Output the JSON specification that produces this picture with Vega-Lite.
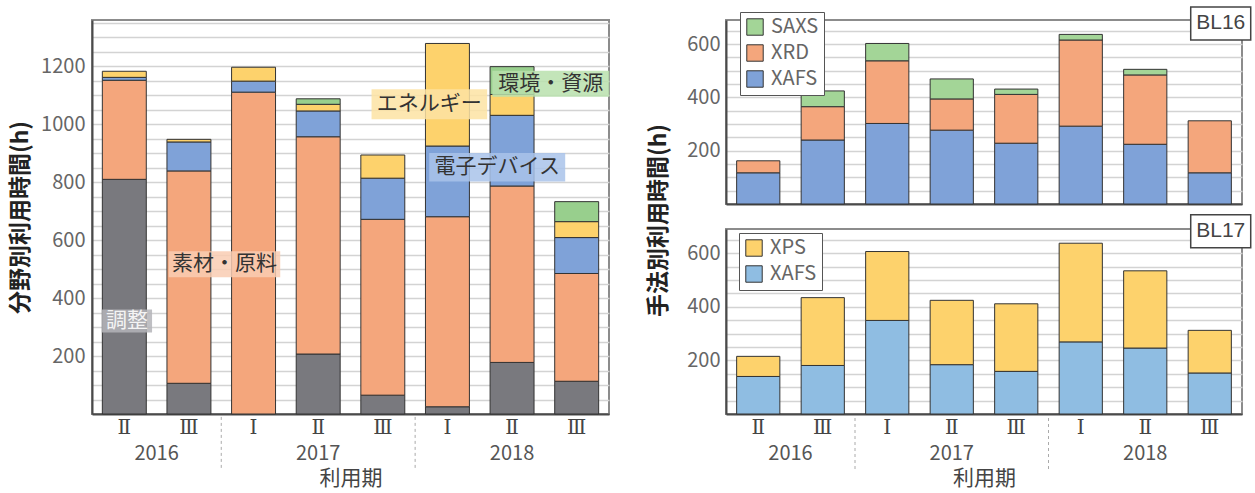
{
  "$schema": "https://vega.github.io/schema/vega-lite/v6.json",
  "background": "white",
  "padding": {"left": 8, "top": 2, "right": 2, "bottom": 2},
  "config": {
    "font": "Noto Sans CJK JP",
    "view": {"stroke": "#8c8c8c", "strokeWidth": 2},
    "axis": {
      "labelColor": "#666666",
      "labelFontSize": 20,
      "labelOverlap": false,
      "titleColor": "#222222",
      "ticks": false,
      "domainColor": "#4a4a4a",
      "domainWidth": 2,
      "gridColor": "#d3d3d3",
      "gridWidth": 1.5
    },
    "axisX": {"grid": false, "labelAngle": 0, "labelColor": "#444444", "labelFontSize": 20, "labelFont": "DejaVu Serif"},
    "legend": {"labelFontSize": 20, "labelColor": "#666666"}
  },
  "datasets": {
    "fieldHours": [
      {"period": "2016-Ⅱ", "cat": "調整", "h": 810},
      {"period": "2016-Ⅱ", "cat": "素材・原料", "h": 342},
      {"period": "2016-Ⅱ", "cat": "電子デバイス", "h": 10},
      {"period": "2016-Ⅱ", "cat": "エネルギー", "h": 21},
      {"period": "2016-Ⅲ", "cat": "調整", "h": 106},
      {"period": "2016-Ⅲ", "cat": "素材・原料", "h": 733},
      {"period": "2016-Ⅲ", "cat": "電子デバイス", "h": 100},
      {"period": "2016-Ⅲ", "cat": "エネルギー", "h": 9},
      {"period": "2017-Ⅰ", "cat": "素材・原料", "h": 1111},
      {"period": "2017-Ⅰ", "cat": "電子デバイス", "h": 38},
      {"period": "2017-Ⅰ", "cat": "エネルギー", "h": 48},
      {"period": "2017-Ⅱ", "cat": "調整", "h": 207},
      {"period": "2017-Ⅱ", "cat": "素材・原料", "h": 750},
      {"period": "2017-Ⅱ", "cat": "電子デバイス", "h": 89},
      {"period": "2017-Ⅱ", "cat": "エネルギー", "h": 23},
      {"period": "2017-Ⅱ", "cat": "環境・資源", "h": 19},
      {"period": "2017-Ⅲ", "cat": "調整", "h": 65},
      {"period": "2017-Ⅲ", "cat": "素材・原料", "h": 607},
      {"period": "2017-Ⅲ", "cat": "電子デバイス", "h": 142},
      {"period": "2017-Ⅲ", "cat": "エネルギー", "h": 80},
      {"period": "2018-Ⅰ", "cat": "調整", "h": 25},
      {"period": "2018-Ⅰ", "cat": "素材・原料", "h": 656},
      {"period": "2018-Ⅰ", "cat": "電子デバイス", "h": 244},
      {"period": "2018-Ⅰ", "cat": "エネルギー", "h": 354},
      {"period": "2018-Ⅱ", "cat": "調整", "h": 178},
      {"period": "2018-Ⅱ", "cat": "素材・原料", "h": 609},
      {"period": "2018-Ⅱ", "cat": "電子デバイス", "h": 244},
      {"period": "2018-Ⅱ", "cat": "エネルギー", "h": 72},
      {"period": "2018-Ⅱ", "cat": "環境・資源", "h": 96},
      {"period": "2018-Ⅲ", "cat": "調整", "h": 113},
      {"period": "2018-Ⅲ", "cat": "素材・原料", "h": 372},
      {"period": "2018-Ⅲ", "cat": "電子デバイス", "h": 124},
      {"period": "2018-Ⅲ", "cat": "エネルギー", "h": 55},
      {"period": "2018-Ⅲ", "cat": "環境・資源", "h": 69}
    ],
    "bl16": [
      {"period": "2016-Ⅱ", "method": "XAFS", "h": 117},
      {"period": "2016-Ⅱ", "method": "XRD", "h": 45},
      {"period": "2016-Ⅲ", "method": "XAFS", "h": 240},
      {"period": "2016-Ⅲ", "method": "XRD", "h": 125},
      {"period": "2016-Ⅲ", "method": "SAXS", "h": 59},
      {"period": "2017-Ⅰ", "method": "XAFS", "h": 302},
      {"period": "2017-Ⅰ", "method": "XRD", "h": 235},
      {"period": "2017-Ⅰ", "method": "SAXS", "h": 65},
      {"period": "2017-Ⅱ", "method": "XAFS", "h": 277},
      {"period": "2017-Ⅱ", "method": "XRD", "h": 117},
      {"period": "2017-Ⅱ", "method": "SAXS", "h": 75},
      {"period": "2017-Ⅲ", "method": "XAFS", "h": 228},
      {"period": "2017-Ⅲ", "method": "XRD", "h": 183},
      {"period": "2017-Ⅲ", "method": "SAXS", "h": 20},
      {"period": "2018-Ⅰ", "method": "XAFS", "h": 292},
      {"period": "2018-Ⅰ", "method": "XRD", "h": 323},
      {"period": "2018-Ⅰ", "method": "SAXS", "h": 21},
      {"period": "2018-Ⅱ", "method": "XAFS", "h": 224},
      {"period": "2018-Ⅱ", "method": "XRD", "h": 260},
      {"period": "2018-Ⅱ", "method": "SAXS", "h": 21},
      {"period": "2018-Ⅲ", "method": "XAFS", "h": 117},
      {"period": "2018-Ⅲ", "method": "XRD", "h": 195}
    ],
    "bl17": [
      {"period": "2016-Ⅱ", "method": "XAFS", "h": 140},
      {"period": "2016-Ⅱ", "method": "XPS", "h": 75},
      {"period": "2016-Ⅲ", "method": "XAFS", "h": 181},
      {"period": "2016-Ⅲ", "method": "XPS", "h": 253},
      {"period": "2017-Ⅰ", "method": "XAFS", "h": 349},
      {"period": "2017-Ⅰ", "method": "XPS", "h": 257},
      {"period": "2017-Ⅱ", "method": "XAFS", "h": 184},
      {"period": "2017-Ⅱ", "method": "XPS", "h": 240},
      {"period": "2017-Ⅲ", "method": "XAFS", "h": 159},
      {"period": "2017-Ⅲ", "method": "XPS", "h": 252},
      {"period": "2018-Ⅰ", "method": "XAFS", "h": 269},
      {"period": "2018-Ⅰ", "method": "XPS", "h": 368},
      {"period": "2018-Ⅱ", "method": "XAFS", "h": 246},
      {"period": "2018-Ⅱ", "method": "XPS", "h": 288},
      {"period": "2018-Ⅲ", "method": "XAFS", "h": 153},
      {"period": "2018-Ⅲ", "method": "XPS", "h": 159}
    ],
    "fieldNotes": [
      {"cat": "調整", "at": 0.54, "h": 321},
      {"cat": "素材・原料", "at": 2.05, "h": 517},
      {"cat": "エネルギー", "at": 5.22, "h": 1069},
      {"cat": "電子デバイス", "at": 6.27, "h": 852},
      {"cat": "環境・資源", "at": 7.1, "h": 1140}
    ],
    "years": [
      {"year": "2016", "at": 1},
      {"year": "2017", "at": 3.5},
      {"year": "2018", "at": 6.5}
    ],
    "yearBreaks": [
      {"at": 2},
      {"at": 5}
    ],
    "beamlines": [
      {"bl": "BL16", "at": 7.67, "h": 677},
      {"bl": "BL17", "at": 7.67, "h": 682}
    ]
  },
  "hconcat": [
    {
      "width": 517,
      "height": 394,
      "layer": [
        {
          "data": {"name": "fieldHours"},
          "transform": [
            {"calculate": "indexof(['調整','素材・原料','電子デバイス','エネルギー','環境・資源'], datum.cat)", "as": "stackRank"}
          ],
          "mark": {"type": "bar", "stroke": "#333333", "strokeWidth": 1},
          "encoding": {
            "x": {
              "field": "period", "type": "nominal",
              "sort": ["2016-Ⅱ", "2016-Ⅲ", "2017-Ⅰ", "2017-Ⅱ", "2017-Ⅲ", "2018-Ⅰ", "2018-Ⅱ", "2018-Ⅲ"],
              "scale": {"paddingInner": 0.32, "paddingOuter": 0.16},
              "axis": {
                "title": "利用期", "labelExpr": "split(datum.label, '-')[1]",
                "labelPadding": 3, "titlePadding": 30, "titleFontSize": 21,
                "titleFontWeight": "normal", "titleColor": "#444444"
              }
            },
            "y": {
              "field": "h", "type": "quantitative", "stack": "zero",
              "scale": {"domain": [0, 1360], "nice": false},
              "axis": {
                "orient": "left", "title": null, "labels": false, "grid": true,
                "values": [50, 100, 150, 200, 250, 300, 350, 400, 450, 500, 550, 600, 650, 700, 750, 800, 850, 900, 950, 1000, 1050, 1100, 1150, 1200, 1250, 1300, 1350]
              }
            },
            "color": {
              "field": "cat", "type": "nominal",
              "scale": {
                "domain": ["調整", "素材・原料", "電子デバイス", "エネルギー", "環境・資源"],
                "range": ["#79797e", "#f4a67c", "#7fa2d8", "#fdd26c", "#98cf8d"]
              },
              "legend": null
            },
            "order": {"field": "stackRank", "type": "quantitative", "sort": "ascending"}
          }
        },
        {
          "data": {"name": "fieldNotes"},
          "mark": {"type": "point", "filled": true, "opacity": 0.85, "size": 18496, "strokeWidth": 0},
          "encoding": {
            "x": {"field": "at", "type": "quantitative", "scale": {"domain": [0, 8], "nice": false, "zero": false}, "axis": null},
            "y": {
              "field": "h", "type": "quantitative",
              "axis": {
                "orient": "left", "title": "分野別利用時間(h)", "titleFontSize": 23, "titleFontWeight": "bold",
                "titlePadding": 8, "labelPadding": 7, "format": "d", "grid": false, "domain": false,
                "values": [200, 400, 600, 800, 1000, 1200]
              }
            },
            "fill": {
              "field": "cat", "type": "nominal",
              "scale": {
                "domain": ["調整", "素材・原料", "電子デバイス", "エネルギー", "環境・資源"],
                "range": ["#b4b4b8", "#f9cdb3", "#a9c3ea", "#fde3a3", "#b9e0ad"]
              },
              "legend": null
            },
            "shape": {
              "field": "cat", "type": "nominal",
              "scale": {
                "domain": ["調整", "素材・原料", "電子デバイス", "エネルギー", "環境・資源"],
                "range": [
                  "M-0.37,-0.17H0.37V0.17H-0.37Z",
                  "M-0.82,-0.19H0.82V0.19H-0.82Z",
                  "M-1,-0.21H1V0.21H-1Z",
                  "M-0.85,-0.22H0.85V0.22H-0.85Z",
                  "M-0.86,-0.19H0.86V0.19H-0.86Z"
                ]
              },
              "legend": null
            }
          }
        },
        {
          "data": {"name": "fieldNotes"},
          "mark": {"type": "text", "fontSize": 21, "align": "center", "baseline": "middle"},
          "encoding": {
            "x": {"field": "at", "type": "quantitative", "scale": {"domain": [0, 8], "nice": false, "zero": false}, "axis": null},
            "y": {"field": "h", "type": "quantitative", "axis": null},
            "text": {"field": "cat"},
            "color": {"condition": {"test": "datum.cat === '調整'", "value": "#f4f4f4"}, "value": "#333333"}
          }
        },
        {
          "data": {"name": "years"},
          "mark": {"type": "text", "fontSize": 20, "color": "#555555", "dy": 40, "baseline": "middle"},
          "encoding": {
            "x": {"field": "at", "type": "quantitative", "scale": {"domain": [0, 8], "nice": false, "zero": false}, "axis": null},
            "y": {"datum": 0, "axis": null},
            "text": {"field": "year"}
          }
        },
        {
          "data": {"name": "yearBreaks"},
          "mark": {"type": "rule", "color": "#aaaaaa", "strokeDash": [3, 3], "strokeWidth": 1},
          "encoding": {
            "x": {"field": "at", "type": "quantitative", "scale": {"domain": [0, 8], "nice": false, "zero": false}, "axis": null},
            "y": {"datum": -10, "axis": null},
            "y2": {"datum": -190}
          }
        }
      ],
      "resolve": {"scale": {"x": "independent"}, "axis": {"y": "independent"}}
    },
    {
      "vconcat": [
        {
          "width": 516,
          "height": 184,
          "layer": [
            {
              "data": {"name": "bl16"},
              "transform": [
                {"calculate": "indexof(['XAFS','XRD','SAXS'], datum.method)", "as": "stackRank"}
              ],
              "mark": {"type": "bar", "stroke": "#333333", "strokeWidth": 1},
              "encoding": {
                "x": {
                  "field": "period", "type": "nominal",
                  "sort": ["2016-Ⅱ", "2016-Ⅲ", "2017-Ⅰ", "2017-Ⅱ", "2017-Ⅲ", "2018-Ⅰ", "2018-Ⅱ", "2018-Ⅲ"],
                  "scale": {"paddingInner": 0.33, "paddingOuter": 0.165},
                  "axis": {"labels": false, "title": null}
                },
                "y": {
                  "field": "h", "type": "quantitative", "stack": "zero",
                  "scale": {"domain": [0, 690], "nice": false},
                  "axis": {
                    "orient": "left", "title": null, "labels": false, "grid": true,
                    "values": [50, 100, 150, 200, 250, 300, 350, 400, 450, 500, 550, 600, 650]
                  }
                },
                "color": {
                  "field": "method", "type": "nominal",
                  "scale": {"domain": ["SAXS", "XRD", "XAFS"], "range": ["#a3d597", "#f4a67c", "#7fa2d8"]},
                  "legend": {
                    "title": null, "orient": "none", "legendX": 14, "legendY": -8,
                    "fillColor": "white", "strokeColor": "#555555", "padding": 5,
                    "symbolType": "square", "symbolSize": 270, "symbolStrokeColor": "#333333",
                    "symbolStrokeWidth": 1, "symbolOpacity": 1, "rowPadding": 4, "labelOffset": 6
                  }
                },
                "order": {"field": "stackRank", "type": "quantitative", "sort": "ascending"}
              }
            },
            {
              "data": {"name": "beamlines"},
              "transform": [{"filter": "datum.bl === 'BL16'"}],
              "mark": {"type": "point", "shape": "M-1,-0.55H1V0.55H-1Z", "size": 3600, "filled": true, "fill": "white", "stroke": "#444444", "strokeWidth": 1.5, "opacity": 1},
              "encoding": {
                "x": {"field": "at", "type": "quantitative", "scale": {"domain": [0, 8], "nice": false, "zero": false}, "axis": null},
                "y": {
                  "field": "h", "type": "quantitative",
                  "axis": {
                    "orient": "left", "title": "手法別利用時間(h)", "titleFontSize": 23, "titleFontWeight": "bold",
                    "titlePadding": 16, "titleY": 200, "labelPadding": 6, "format": "d", "grid": false, "domain": false,
                    "values": [200, 400, 600]
                  }
                }
              }
            },
            {
              "data": {"name": "beamlines"},
              "transform": [{"filter": "datum.bl === 'BL16'"}],
              "mark": {"type": "text", "fontSize": 21, "font": "Liberation Sans", "color": "#444444", "align": "center", "baseline": "middle"},
              "encoding": {
                "x": {"field": "at", "type": "quantitative", "scale": {"domain": [0, 8], "nice": false, "zero": false}, "axis": null},
                "y": {"field": "h", "type": "quantitative", "axis": null},
                "text": {"field": "bl"}
              }
            }
          ],
          "resolve": {"scale": {"x": "independent"}, "axis": {"y": "independent"}}
        },
        {
          "width": 516,
          "height": 185,
          "layer": [
            {
              "data": {"name": "bl17"},
              "transform": [
                {"calculate": "indexof(['XAFS','XPS'], datum.method)", "as": "stackRank"}
              ],
              "mark": {"type": "bar", "stroke": "#333333", "strokeWidth": 1},
              "encoding": {
                "x": {
                  "field": "period", "type": "nominal",
                  "sort": ["2016-Ⅱ", "2016-Ⅲ", "2017-Ⅰ", "2017-Ⅱ", "2017-Ⅲ", "2018-Ⅰ", "2018-Ⅱ", "2018-Ⅲ"],
                  "scale": {"paddingInner": 0.33, "paddingOuter": 0.165},
                  "axis": {
                    "title": "利用期", "labelExpr": "split(datum.label, '-')[1]",
                    "labelPadding": 3, "titlePadding": 30, "titleFontSize": 21,
                    "titleFontWeight": "normal", "titleColor": "#444444"
                  }
                },
                "y": {
                  "field": "h", "type": "quantitative", "stack": "zero",
                  "scale": {"domain": [0, 690], "nice": false},
                  "axis": {
                    "orient": "left", "title": null, "labels": false, "grid": true,
                    "values": [50, 100, 150, 200, 250, 300, 350, 400, 450, 500, 550, 600, 650]
                  }
                },
                "color": {
                  "field": "method", "type": "nominal",
                  "scale": {"domain": ["XPS", "XAFS"], "range": ["#fdd26c", "#8fbde2"]},
                  "legend": {
                    "title": null, "orient": "none", "legendX": 13, "legendY": 4,
                    "fillColor": "white", "strokeColor": "#555555", "padding": 5,
                    "symbolType": "square", "symbolSize": 270, "symbolStrokeColor": "#333333",
                    "symbolStrokeWidth": 1, "symbolOpacity": 1, "rowPadding": 4, "labelOffset": 6
                  }
                },
                "order": {"field": "stackRank", "type": "quantitative", "sort": "ascending"}
              }
            },
            {
              "data": {"name": "beamlines"},
              "transform": [{"filter": "datum.bl === 'BL17'"}],
              "mark": {"type": "point", "shape": "M-1,-0.55H1V0.55H-1Z", "size": 3600, "filled": true, "fill": "white", "stroke": "#444444", "strokeWidth": 1.5, "opacity": 1},
              "encoding": {
                "x": {"field": "at", "type": "quantitative", "scale": {"domain": [0, 8], "nice": false, "zero": false}, "axis": null},
                "y": {
                  "field": "h", "type": "quantitative",
                  "axis": {
                    "orient": "left", "title": null, "labelPadding": 6, "format": "d", "grid": false, "domain": false,
                    "values": [200, 400, 600]
                  }
                }
              }
            },
            {
              "data": {"name": "beamlines"},
              "transform": [{"filter": "datum.bl === 'BL17'"}],
              "mark": {"type": "text", "fontSize": 21, "font": "Liberation Sans", "color": "#444444", "align": "center", "baseline": "middle"},
              "encoding": {
                "x": {"field": "at", "type": "quantitative", "scale": {"domain": [0, 8], "nice": false, "zero": false}, "axis": null},
                "y": {"field": "h", "type": "quantitative", "axis": null},
                "text": {"field": "bl"}
              }
            },
            {
              "data": {"name": "years"},
              "mark": {"type": "text", "fontSize": 20, "color": "#555555", "dy": 40, "baseline": "middle"},
              "encoding": {
                "x": {"field": "at", "type": "quantitative", "scale": {"domain": [0, 8], "nice": false, "zero": false}, "axis": null},
                "y": {"datum": 0, "axis": null},
                "text": {"field": "year"}
              }
            },
            {
              "data": {"name": "yearBreaks"},
              "mark": {"type": "rule", "color": "#aaaaaa", "strokeDash": [3, 3], "strokeWidth": 1},
              "encoding": {
                "x": {"field": "at", "type": "quantitative", "scale": {"domain": [0, 8], "nice": false, "zero": false}, "axis": null},
                "y": {"datum": -15, "axis": null},
                "y2": {"datum": -210}
              }
            }
          ],
          "resolve": {"scale": {"x": "independent"}, "axis": {"y": "independent"}}
        }
      ],
      "spacing": 25,
      "bounds": "flush",
      "resolve": {"scale": {"color": "independent", "y": "independent", "x": "independent"}, "legend": {"color": "independent"}}
    }
  ],
  "spacing": 117,
  "bounds": "flush",
  "resolve": {"scale": {"color": "independent", "y": "independent", "x": "independent"}, "legend": {"color": "independent"}}
}
